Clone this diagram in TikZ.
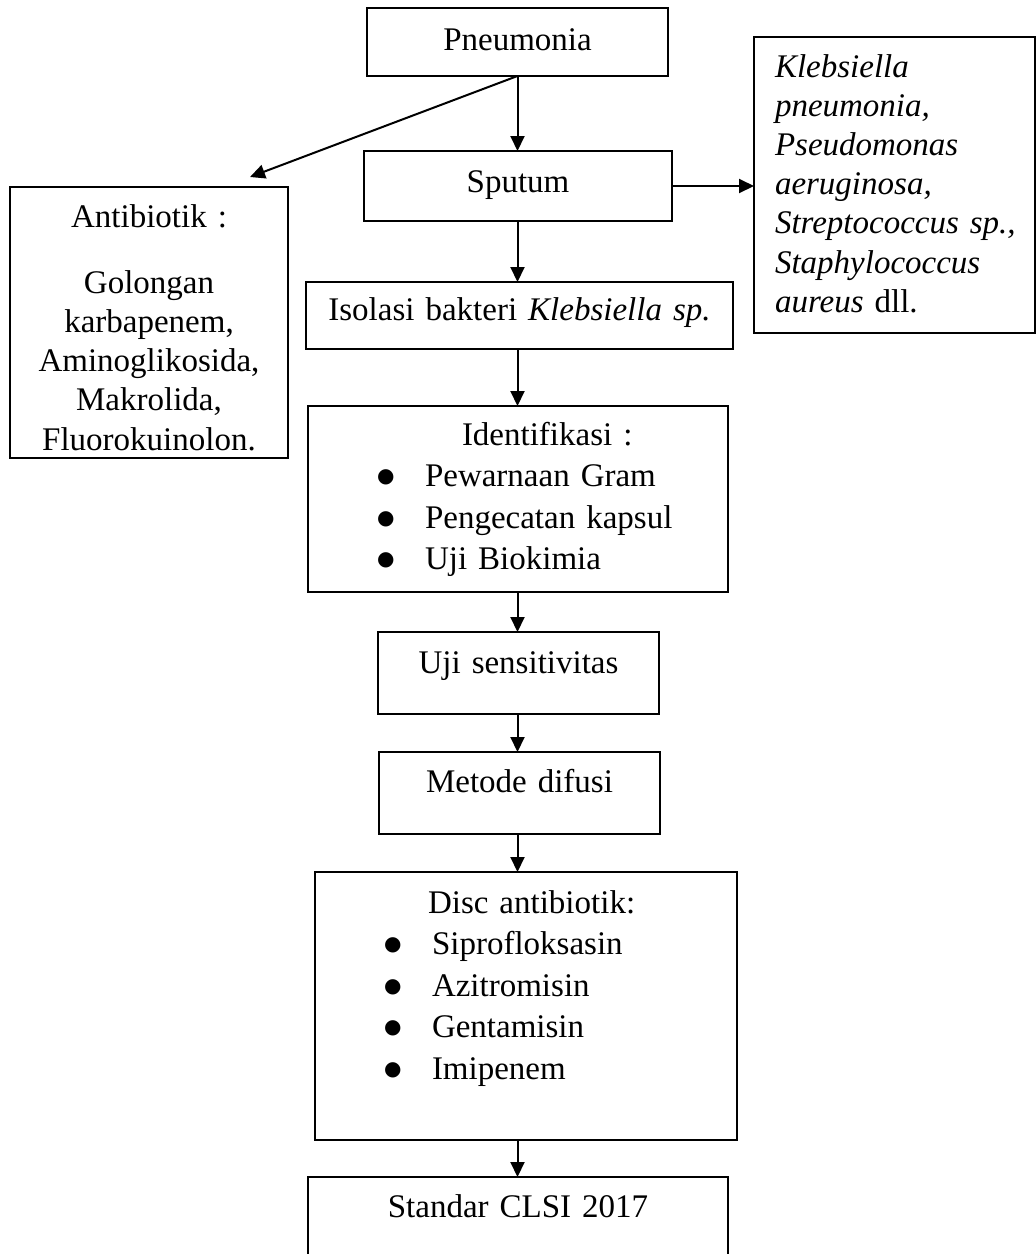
\documentclass[tikz,border=0pt]{standalone}
\usepackage{fontspec}
\setmainfont{Liberation Serif}
\newfontfamily\dotfont{DejaVu Sans}
\usetikzlibrary{arrows.meta}
\newcommand{\bitem}[1]{\hspace*{34.5pt}\makebox[24pt][l]{\raisebox{2pt}{\dotfont\fontsize{10pt}{10pt}\selectfont ●}}#1}
\newcommand{\kline}{\hspace*{10.5pt}}

\begin{document}
\begin{tikzpicture}[x=0.5pt,y=-0.5pt,
	box/.style={draw, line width=0.8pt, inner sep=0pt, outer sep=0pt, anchor=north, align=center, font=\fontsize{16.5pt}{19.6pt}\selectfont},
	list/.style={box, align=left, font=\fontsize{16.5pt}{20.75pt}\selectfont},
	arr/.style={-{Triangle[width=7pt,length=7.5pt]}, line width=1pt}]
	
	\clip (0,0) rectangle (1036,1254);
	
	\node[box, text width=150.5pt, text height=21pt, text depth=13pt] (pneu) at (517.5,8) {Pneumonia};
	\node[box, text width=154pt, text height=20.5pt, text depth=14.5pt] (sput) at (518,151) {Sputum};
	\node[box, align=left, text width=140.5pt, text height=20pt, text depth=128pt] (kleb) at (894.5,37) {\kline\textit{Klebsiella}\\ \kline\textit{pneumonia,}\\ \kline\textit{Pseudomonas}\\ \kline\textit{aeruginosa,}\\ \kline\textit{Streptococcus sp.,}\\ \kline\textit{Staphylococcus}\\ \kline\textit{aureus} dll.};
	\node[box, text width=139pt, text height=20pt, text depth=115.5pt] (anti) at (149,187) {Antibiotik :\\[13.5pt] Golongan\\ karbapenem,\\ Aminoglikosida,\\ Makrolida,\\ Fluorokuinolon.};
	\coordinate (antitip) at (250,177);
	
	\node[box, text width=213.5pt, text height=19pt, text depth=14.5pt] (iso) at (519.5,282) {Isolasi bakteri \textit{Klebsiella sp.}};
	\node[list, text width=210pt, text height=19.5pt, text depth=73.5pt] (ident) at (518,406) {\hspace*{77pt}Identifikasi :\\ \bitem{Pewarnaan Gram}\\ \bitem{Pengecatan kapsul}\\ \bitem{Uji Biokimia}};
	\node[box, text width=140.5pt, text height=20.5pt, text depth=20.5pt] (uji) at (518.5,632) {Uji sensitivitas};
	\node[box, text width=140.5pt, text height=20pt, text depth=21pt] (difusi) at (519.5,752) {Metode difusi};
	\node[list, text width=211pt, text height=20.5pt, text depth=113.5pt] (disc) at (526,872) {\hspace*{56.5pt}Disc antibiotik:\\ \bitem{Siprofloksasin}\\ \bitem{Azitromisin}\\ \bitem{Gentamisin}\\ \bitem{Imipenem}};
	\node[box, text width=210pt, text height=20pt, text depth=31.5pt] (clsi) at (518,1177) {Standar CLSI 2017};
	
	\path[arr] (pneu.south) edge (sput.north -| pneu.south);
	\path[arr] (pneu.south) edge (antitip);
	\path[arr] (sput.east) edge (sput.east -| kleb.west);
	\path[arr] (sput.south -| pneu.south) edge (iso.north -| pneu.south);
	\path[arr] (iso.south -| pneu.south) edge (ident.north -| pneu.south);
	\path[arr] (ident.south -| pneu.south) edge (uji.north -| pneu.south);
	\path[arr] (uji.south -| pneu.south) edge (difusi.north -| pneu.south);
	\path[arr] (difusi.south -| pneu.south) edge (disc.north -| pneu.south);
	\path[arr] (disc.south -| pneu.south) edge (clsi.north -| pneu.south);
	
\end{tikzpicture}
\end{document}
